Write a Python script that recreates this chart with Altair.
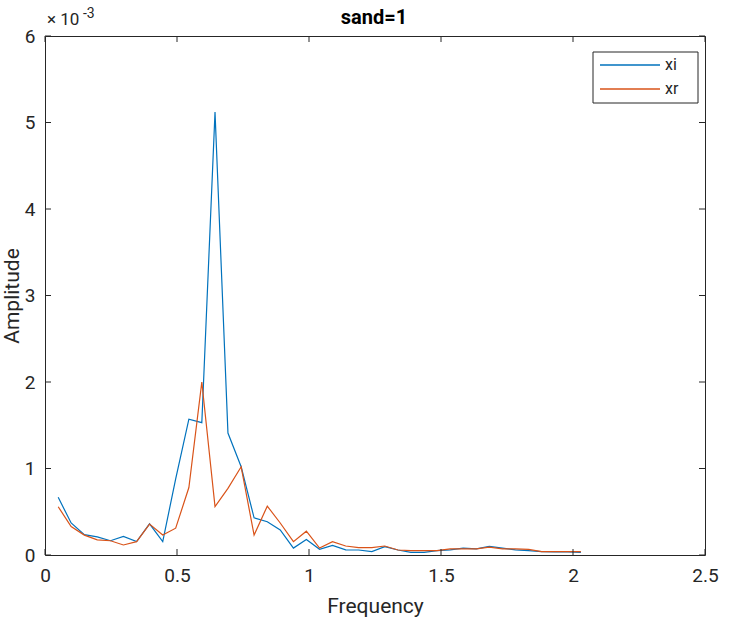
import altair as alt
import pandas as pd

freq = [0.050, 0.099, 0.149, 0.198, 0.248, 0.297, 0.347, 0.396, 0.446, 0.495,
        0.545, 0.594, 0.644, 0.693, 0.743, 0.792, 0.842, 0.891, 0.941, 0.990,
        1.040, 1.089, 1.139, 1.188, 1.238, 1.287, 1.337, 1.386, 1.436, 1.485,
        1.535, 1.584, 1.634, 1.683, 1.733, 1.782, 1.832, 1.881, 1.931, 1.980, 2.030]

xi = [0.667, 0.37, 0.235, 0.21, 0.165, 0.215, 0.155, 0.36, 0.155, 0.88,
      1.57, 1.53, 5.12, 1.41, 1.02, 0.43, 0.385, 0.29, 0.08, 0.18,
      0.066, 0.11, 0.06, 0.058, 0.04, 0.097, 0.058, 0.03, 0.03, 0.05,
      0.06, 0.08, 0.07, 0.10, 0.08, 0.06, 0.05, 0.04, 0.035, 0.035, 0.03]

xr = [0.558, 0.33, 0.23, 0.175, 0.165, 0.116, 0.154, 0.358, 0.231, 0.31,
      0.78, 2.0, 0.56, 0.77, 1.02, 0.23, 0.565, 0.37, 0.155, 0.275,
      0.08, 0.154, 0.104, 0.085, 0.085, 0.104, 0.058, 0.05, 0.05, 0.05,
      0.07, 0.07, 0.07, 0.09, 0.07, 0.07, 0.065, 0.04, 0.04, 0.04, 0.04]

series_names = ["xi", "xr"]
series_colors = ["#0072BD", "#D95319"]
x_ticks = [0, 0.5, 1, 1.5, 2, 2.5]
y_ticks = [0, 1, 2, 3, 4, 5, 6]
title_text = "sand=1"

W, H = 660, 519
FONT = "Roboto"
AX = "#262626"

rows = []
for name, vals in zip(series_names, [xi, xr]):
    for f, v in zip(freq, vals):
        rows.append({"Frequency": f, "Amplitude": v, "series": name})
df = pd.DataFrame(rows)

xscale = alt.Scale(domain=[0, 2.5], nice=False, zero=False)
yscale = alt.Scale(domain=[0, 6], nice=False)
cscale = alt.Scale(domain=series_names, range=series_colors)

lines = alt.Chart(df).mark_line(strokeWidth=1.2).encode(
    x=alt.X("Frequency:Q", scale=xscale,
            axis=alt.Axis(values=x_ticks, title="Frequency", format="~g",
                          labelFlush=False, labelOverlap=False, ticks=False,
                          domain=False, grid=False,
                          labelFontSize=19, labelColor=AX, labelPadding=11,
                          titleFontSize=21, titleFontWeight="normal", titleColor=AX,
                          titleY=57, titleBaseline="alphabetic",
                          labelFont=FONT, titleFont=FONT)),
    y=alt.Y("Amplitude:Q", scale=yscale,
            axis=alt.Axis(values=y_ticks, title="Amplitude", format="~g",
                          labelFlush=False, labelOverlap=False, ticks=False,
                          domain=False, grid=False,
                          labelFontSize=19, labelColor=AX, labelPadding=10,
                          titleFontSize=21, titleFontWeight="normal", titleColor=AX,
                          titleAngle=270, titleX=-27, titleY=H / 2,
                          titleAlign="center", titleBaseline="alphabetic",
                          labelFont=FONT, titleFont=FONT)),
    color=alt.Color("series:N", scale=cscale, legend=None),
    order="Frequency:Q",
)

xt = pd.DataFrame({"t": x_ticks})
yt = pd.DataFrame({"t": y_ticks})

bottom_ticks = alt.Chart(xt).mark_rule(color=AX, strokeWidth=1).encode(
    x=alt.X("t:Q", scale=xscale), y=alt.value(H), y2=alt.value(H - 6))
top_ticks = alt.Chart(xt).mark_rule(color=AX, strokeWidth=1).encode(
    x=alt.X("t:Q", scale=xscale), y=alt.value(0), y2=alt.value(6))
left_ticks = alt.Chart(yt).mark_rule(color=AX, strokeWidth=1).encode(
    y=alt.Y("t:Q", scale=yscale), x=alt.value(0), x2=alt.value(6))
right_ticks = alt.Chart(yt).mark_rule(color=AX, strokeWidth=1).encode(
    y=alt.Y("t:Q", scale=yscale), x=alt.value(W), x2=alt.value(W - 6))

exp_base = alt.Chart(pd.DataFrame({"s": ["× 10"]})).mark_text(
    font=FONT, fontSize=17, color=AX, align="left", baseline="alphabetic").encode(
    text="s:N", x=alt.value(2), y=alt.value(-11))
exp_pow = alt.Chart(pd.DataFrame({"s": ["-3"]})).mark_text(
    font=FONT, fontSize=14, color=AX, align="left", baseline="alphabetic").encode(
    text="s:N", x=alt.value(38), y=alt.value(-18))

title = alt.Chart(pd.DataFrame({"s": [title_text]})).mark_text(
    font=FONT, fontSize=20, fontWeight="bold", color="#000000", align="center",
    baseline="alphabetic").encode(text="s:N", x=alt.value(W / 2 - 1), y=alt.value(-12))

# legend drawn inside the axes (top-right), MATLAB style
leg = pd.DataFrame({"series": series_names,
                    "ly": [29 + 24 * i for i in range(len(series_names))]})
leg_box = alt.Chart(pd.DataFrame({"a": [0]})).mark_rect(
    fill="white", stroke=AX, strokeWidth=1).encode(
    x=alt.value(548), x2=alt.value(653), y=alt.value(16), y2=alt.value(67))
leg_lines = alt.Chart(leg).mark_rule(strokeWidth=1.5).encode(
    x=alt.value(555), x2=alt.value(615),
    y=alt.Y("ly:Q", scale=None),
    color=alt.Color("series:N", scale=cscale, legend=None))
leg_text = alt.Chart(leg).mark_text(
    font=FONT, fontSize=16, color=AX, align="left", baseline="middle").encode(
    x=alt.value(620), y=alt.Y("ly:Q", scale=None), text="series:N")

chart = alt.layer(lines, bottom_ticks, top_ticks, left_ticks, right_ticks,
                  exp_base, exp_pow, title, leg_box, leg_lines, leg_text
                  ).resolve_scale(x="shared", y="shared").properties(
    width=W, height=H,
    autosize=alt.AutoSizeParams(type="none"),
    padding={"left": 45, "top": 36, "right": 24, "bottom": 75},
    background="white",
).configure_view(stroke=AX, strokeWidth=1)

chart.save("out.html", embed_options={"renderer": "svg", "actions": False})
